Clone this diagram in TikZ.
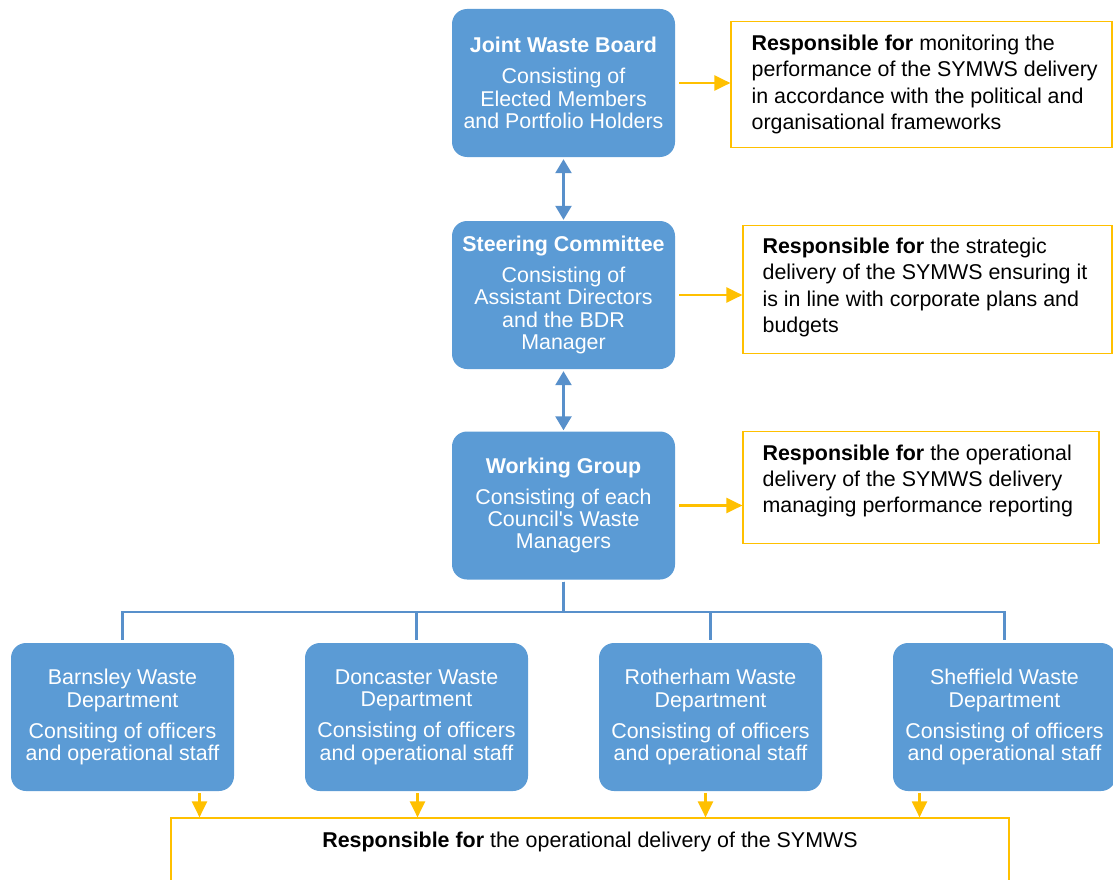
\documentclass[tikz,border=0pt]{standalone}
\usepackage{fontspec}
\setmainfont{Liberation Sans}
\usetikzlibrary{trees,arrows.meta}
\definecolor{boardblue}{RGB}{91,155,213}
\definecolor{linkblue}{RGB}{88,144,203}
\definecolor{respyellow}{RGB}{255,192,0}

\begin{document}
\begin{tikzpicture}[x=1pt,y=1pt,
  body/.style={rectangle,rounded corners=15pt,fill=boardblue,text=white,align=center,minimum width=223pt,minimum height=148pt,inner sep=0pt,font=\fontsize{21.4}{22.4}\selectfont},
  resp/.style={rectangle,draw=respyellow,line width=1.2pt,inner sep=0pt},
  resptext/.style={anchor=west,align=left,inner sep=0pt,font=\fontsize{21.4}{26.4}\selectfont},
  link/.style={draw=linkblue,line width=2.6pt,{Triangle[length=14pt,width=16pt]}-{Triangle[length=14pt,width=16pt]},shorten <=2pt,shorten >=1pt},
  feed/.style={draw=respyellow,line width=2.2pt,-{Triangle[length=16pt,width=15pt]}},
  level 1/.style={sibling distance=294pt,level distance=211.5pt},
  edge from parent/.style={draw=linkblue,line width=2.2pt},
  edge from parent path={([yshift=-2pt]\tikzparentnode.south) -- ++(0,-30) -| ([yshift=3pt]\tikzchildnode.north)}]
\clip (0,0) rectangle (1113,-880);

\node[body] (jwb) at (563.5,-83) {\textbf{Joint Waste Board}\\[8.6pt]Consisting of\\Elected Members\\and Portfolio Holders};
\node[body] (sc) at (563.5,-295) {\textbf{Steering Committee}\\[8.6pt]Consisting of\\Assistant Directors\\and the BDR\\Manager};
\node[body] (wg) at (563.5,-505.5) {\textbf{Working Group}\\[8.6pt]Consisting of each\\Council\textquotesingle s Waste\\Managers}
  child {node[body] (barnsley) {Barnsley Waste\\Department\\[8.6pt]Consiting of officers\\and operational staff}}
  child {node[body] (doncaster) {Doncaster Waste\\Department\\[8.6pt]Consisting of officers\\and operational staff}}
  child {node[body] (rotherham) {Rotherham Waste\\Department\\[8.6pt]Consisting of officers\\and operational staff}}
  child {node[body] (sheffield) {Sheffield Waste\\Department\\[8.6pt]Consisting of officers\\and operational staff}};

\draw[link] (jwb) -- (sc);
\draw[link] (sc) -- (wg);

\node[resp,minimum width=381pt,minimum height=125.6pt] (rjwb) at (921.5,-84.5) {};
\node[resptext] at ([xshift=21pt]rjwb.west) {\textbf{Responsible for} monitoring the\\performance of the SYMWS delivery\\in accordance with the political and\\organisational frameworks};
\node[resp,minimum width=369pt,minimum height=127.6pt] (rsc) at (927.5,-289.5) {};
\node[resptext] at ([xshift=20pt,yshift=2pt]rsc.west) {\textbf{Responsible for} the strategic\\delivery of the SYMWS ensuring it\\is in line with corporate plans and\\budgets};
\node[resp,minimum width=356pt,minimum height=111.6pt] (rwg) at (921,-487.5) {};
\node[resptext] at ([xshift=20pt,yshift=6.5pt]rwg.west) {\textbf{Responsible for} the operational\\delivery of the SYMWS delivery\\managing performance reporting};
\node[resp,minimum width=838pt,minimum height=100pt] (rall) at (590,-868) {};
\node[inner sep=0pt,font=\fontsize{21.4}{26.4}\selectfont] at ([yshift=-25pt]rall.north) {\textbf{Responsible for} the operational delivery of the SYMWS};

\draw[feed] ([xshift=4pt]jwb.east) -- (jwb.east -| rjwb.west);
\draw[feed] ([xshift=4pt]sc.east) -- (sc.east -| rsc.west);
\draw[feed] ([xshift=4pt]wg.east) -- (wg.east -| rwg.west);

\draw[feed] ([xshift=77pt,yshift=-2pt]barnsley.south) -- ([xshift=77pt]barnsley.south |- rall.north);
\draw[feed] ([xshift=1pt,yshift=-2pt]doncaster.south) -- ([xshift=1pt]doncaster.south |- rall.north);
\draw[feed] ([xshift=-5pt,yshift=-2pt]rotherham.south) -- ([xshift=-5pt]rotherham.south |- rall.north);
\draw[feed] ([xshift=-85pt,yshift=-2pt]sheffield.south) -- ([xshift=-85pt]sheffield.south |- rall.north);
\end{tikzpicture}
\end{document}
